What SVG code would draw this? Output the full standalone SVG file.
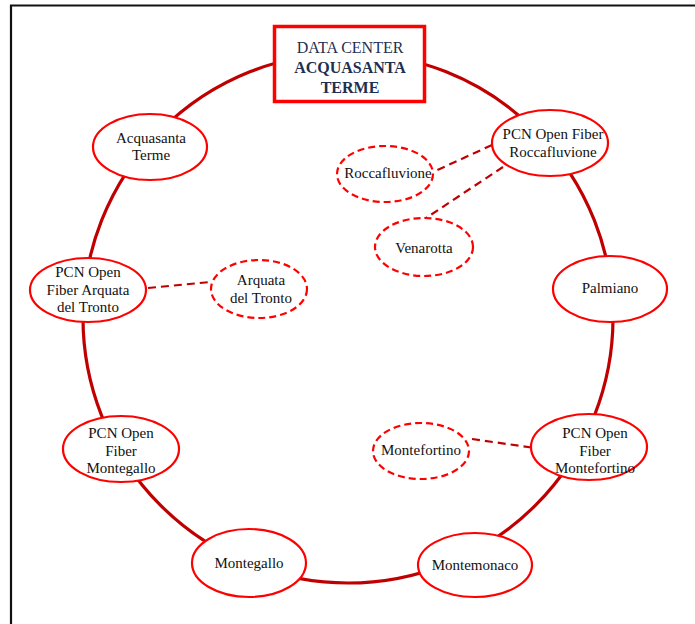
<svg xmlns="http://www.w3.org/2000/svg" width="695" height="624" viewBox="0 0 695 624" font-family="'Liberation Serif', serif">
<style>
.n{fill:#fff;stroke:#ff0000;stroke-width:2.2}
.d{fill:#fff;stroke:#ff0000;stroke-width:2.2;stroke-dasharray:7 4}
.t{font-size:15px;fill:#111;text-anchor:middle}
.h{font-size:16px;fill:#1f2f4f;text-anchor:middle}
.ring{fill:none;stroke:#c00000;stroke-width:3.2}
.dl{fill:none;stroke:#c00000;stroke-width:2.2;stroke-dasharray:8 5}
</style>
<rect width="695" height="624" fill="#fff"/>
<path d="M11,624 V5.5 H695" fill="none" stroke="#111" stroke-width="2.2"/>
<g id="connectors">
<circle class="ring" cx="348" cy="318" r="265"/>
<path class="dl" d="M492,145 L433,172"/>
<path class="dl" d="M503,167 L423,220"/>
<path class="dl" d="M148,288 L210,282"/>
<path class="dl" d="M472,439 L535,448"/>
</g>
<g id="datacenter">
<rect x="274.5" y="26.5" width="150" height="75" fill="#fff" stroke="#ff0000" stroke-width="3.5"/>
<text class="h" x="350" y="53" font-family="'Liberation Serif', serif">DATA CENTER</text>
<text class="h" x="350" y="73" font-weight="bold" font-family="'Liberation Serif', serif">ACQUASANTA</text>
<text class="h" x="350" y="93" font-weight="bold" font-family="'Liberation Serif', serif">TERME</text>
</g>
<g id="acquasanta" font-family="'Liberation Serif', serif">
<ellipse class="n" cx="150" cy="147" rx="57" ry="33"/>
<text class="t" x="151" y="143">Acquasanta</text>
<text class="t" x="151" y="160">Terme</text>
</g>
<g id="pcn-roccafluvione" font-family="'Liberation Serif', serif">
<ellipse class="n" cx="550" cy="143" rx="58" ry="33"/>
<text class="t" x="553" y="139">PCN Open Fiber</text>
<text class="t" x="553" y="157">Roccafluvione</text>
</g>
<g id="roccafluvione" font-family="'Liberation Serif', serif">
<ellipse class="d" cx="385" cy="174" rx="48" ry="28"/>
<text class="t" x="388" y="178">Roccafluvione</text>
</g>
<g id="venarotta" font-family="'Liberation Serif', serif">
<ellipse class="d" cx="424" cy="247" rx="49" ry="29"/>
<text class="t" x="424" y="253">Venarotta</text>
</g>
<g id="pcn-arquata" font-family="'Liberation Serif', serif">
<ellipse class="n" cx="88" cy="290" rx="58" ry="32"/>
<text class="t" x="88" y="277">PCN Open</text>
<text class="t" x="88" y="295">Fiber Arquata</text>
<text class="t" x="88" y="312">del Tronto</text>
</g>
<g id="arquata" font-family="'Liberation Serif', serif">
<ellipse class="d" cx="259" cy="289" rx="48" ry="29"/>
<text class="t" x="261" y="285">Arquata</text>
<text class="t" x="261" y="303">del Tronto</text>
</g>
<g id="palmiano" font-family="'Liberation Serif', serif">
<ellipse class="n" cx="610" cy="289" rx="57" ry="33"/>
<text class="t" x="610" y="293">Palmiano</text>
</g>
<g id="pcn-montefortino" font-family="'Liberation Serif', serif">
<ellipse class="n" cx="589" cy="447" rx="58" ry="33"/>
<text class="t" x="595" y="438">PCN Open</text>
<text class="t" x="595" y="456">Fiber</text>
<text class="t" x="595" y="473">Montefortino</text>
</g>
<g id="montefortino" font-family="'Liberation Serif', serif">
<ellipse class="d" cx="421" cy="451" rx="48" ry="28"/>
<text class="t" x="421" y="455">Montefortino</text>
</g>
<g id="pcn-montegallo" font-family="'Liberation Serif', serif">
<ellipse class="n" cx="121" cy="449" rx="58" ry="33"/>
<text class="t" x="121" y="438">PCN Open</text>
<text class="t" x="121" y="456">Fiber</text>
<text class="t" x="121" y="473">Montegallo</text>
</g>
<g id="montegallo" font-family="'Liberation Serif', serif">
<ellipse class="n" cx="249" cy="563" rx="57" ry="34"/>
<text class="t" x="249" y="568">Montegallo</text>
</g>
<g id="montemonaco" font-family="'Liberation Serif', serif">
<ellipse class="n" cx="475" cy="565" rx="57" ry="32"/>
<text class="t" x="475" y="570">Montemonaco</text>
</g>
</svg>
